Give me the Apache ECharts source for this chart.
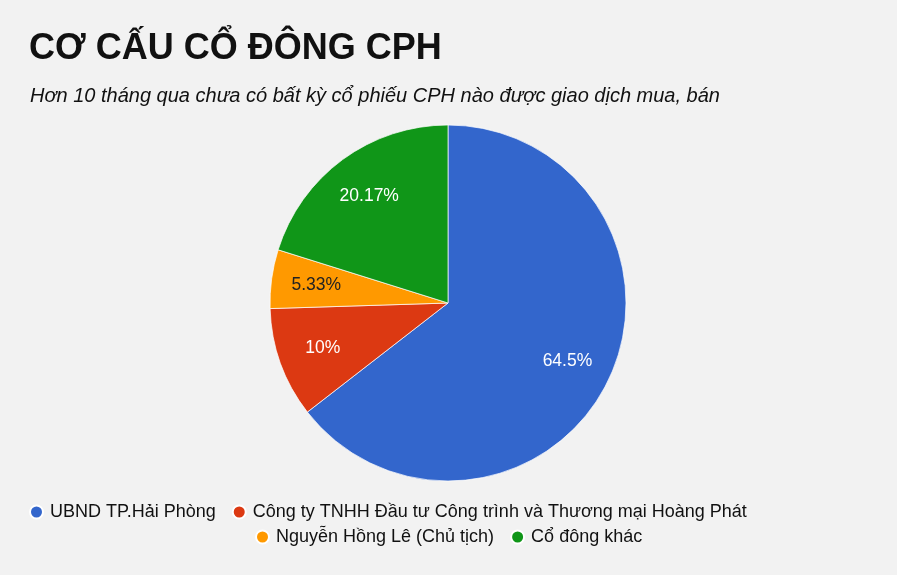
<!DOCTYPE html>
<html>
<head>
<meta charset="utf-8">
<script src="https://cdn.jsdelivr.net/npm/echarts@6/dist/echarts.min.js"></script>
<style>
html,body{margin:0;padding:0;background:#f2f2f2;}
#c{width:897px;height:575px;}
</style>
</head>
<body>
<div id="c"></div>
<script>
const titleText = 'CƠ CẤU CỔ ĐÔNG CPH';
const subtitleText = 'Hơn 10 tháng qua chưa có bất kỳ cổ phiếu CPH nào được giao dịch mua, bán';
const categories = ['UBND TP.Hải Phòng', 'Công ty TNHH Đầu tư Công trình và Thương mại Hoàng Phát', 'Nguyễn Hồng Lê (Chủ tịch)', 'Cổ đông khác'];
const values = [64.5, 10, 5.33, 20.17];
const colors = ['#3366cc', '#dc3912', '#ff9900', '#109618'];
const labelColors = ['#ffffff', '#ffffff', '#222222', '#ffffff'];

const font = '"Liberation Sans", Arial, sans-serif';
const chart = echarts.init(document.getElementById('c'));

const pieData = categories.map((n, i) => ({ name: n, value: values[i], itemStyle: { color: colors[i] } }));
const labelData = categories.map((n, i) => ({ name: n, value: values[i], label: { color: labelColors[i] } }));
const legendItem = (i) => ({ name: categories[i], itemStyle: { color: colors[i] } });

const legendCommon = {
  orient: 'horizontal',
  icon: 'circle',
  itemWidth: 13,
  itemHeight: 13,
  itemGap: 16,
  selectedMode: false,
  textStyle: { fontFamily: font, fontSize: 18, color: '#111', padding: [0, 0, 0, 2] }
};

chart.setOption({
  backgroundColor: '#f2f2f2',
  title: [
    { text: titleText, left: 24, top: 26, textStyle: { fontFamily: font, fontSize: 36, fontWeight: 'bold', color: '#111' } },
    { text: subtitleText, left: 25, top: 81, textStyle: { fontFamily: font, fontSize: 20, fontStyle: 'italic', fontWeight: 'normal', color: '#111' } }
  ],
  legend: [
    Object.assign({}, legendCommon, { left: 24, top: 498, data: [legendItem(0), legendItem(1)] }),
    Object.assign({}, legendCommon, { left: 250, top: 523, data: [legendItem(2), legendItem(3)] })
  ],
  series: [
    {
      type: 'pie',
      center: [448, 303],
      radius: 178,
      startAngle: 90,
      clockwise: true,
      label: { show: false },
      labelLine: { show: false },
      itemStyle: { borderColor: '#ffffff', borderWidth: 0.7 },
      emphasis: { disabled: true },
      data: pieData
    },
    {
      type: 'pie',
      center: [448, 303],
      radius: 260,
      startAngle: 90,
      clockwise: true,
      silent: true,
      itemStyle: { color: 'rgba(0,0,0,0)' },
      label: { show: true, position: 'inside', formatter: '{c}%', fontFamily: font, fontSize: 17.5 },
      labelLine: { show: false },
      emphasis: { disabled: true },
      data: labelData
    }
  ]
});
</script>
</body>
</html>
